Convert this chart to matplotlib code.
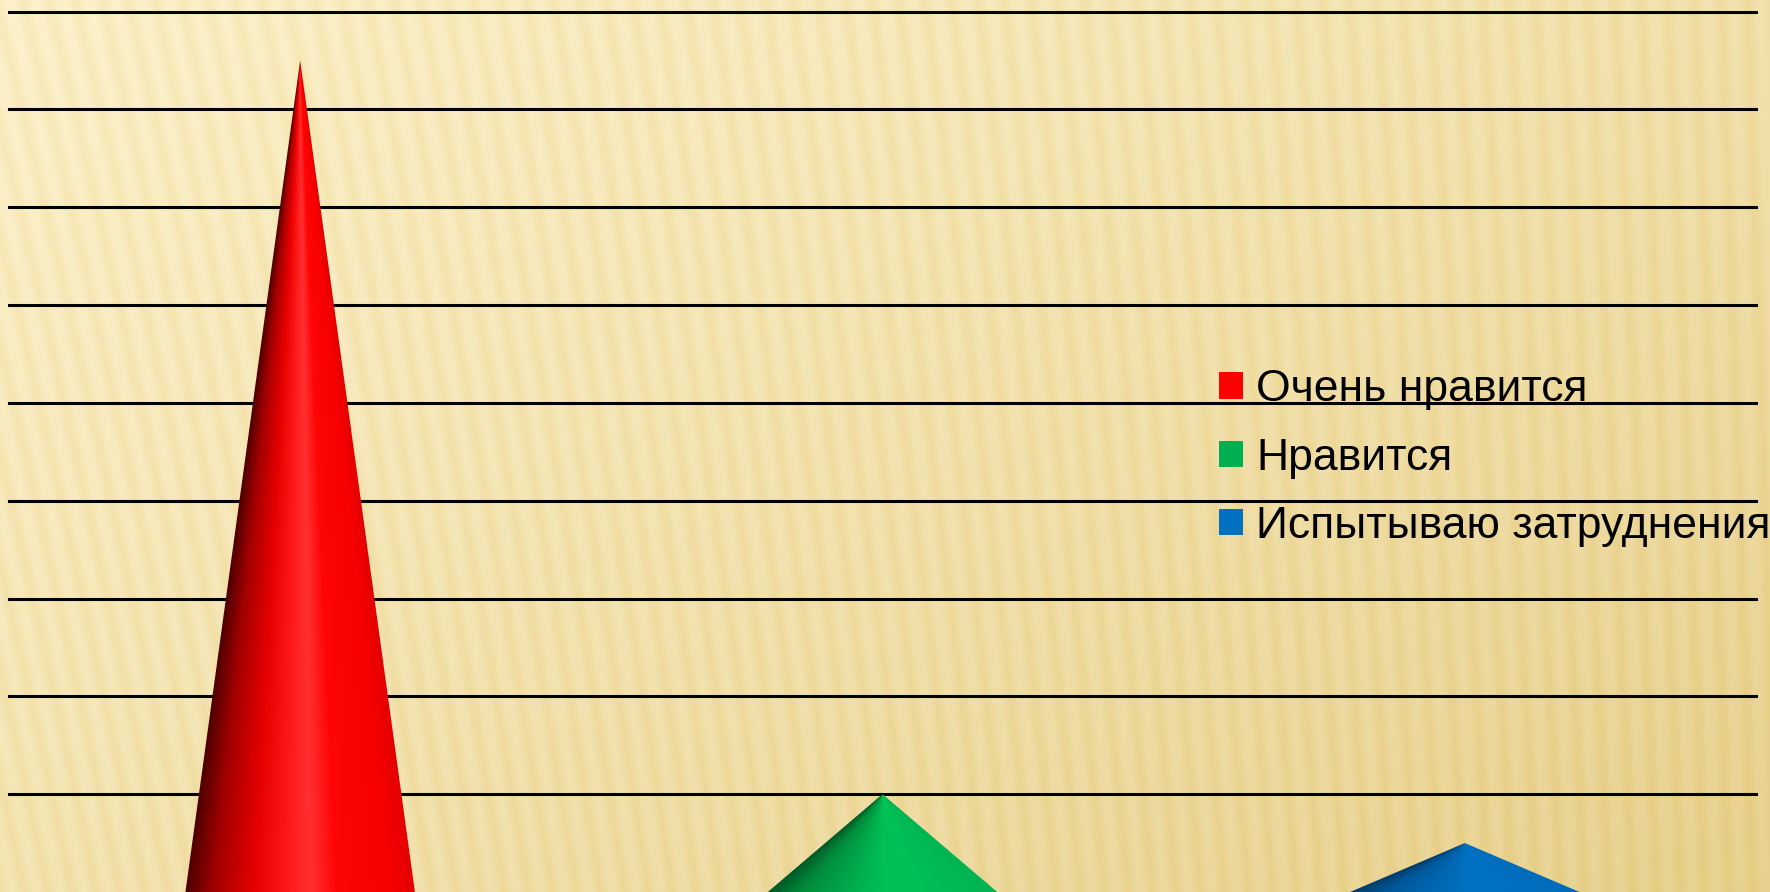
import numpy as np
import matplotlib.pyplot as plt
from matplotlib.patches import Polygon, Patch
from matplotlib.colors import LinearSegmentedColormap

categories = ['Очень нравится', 'Нравится', 'Испытываю затруднения']
values = [17, 2, 1]
colors = ['#ff0000', '#00b050', '#0070c0']
grid_ticks = [2, 4, 6, 8, 10, 12, 14, 16, 18]

shades = [
    [(0, '#4d0000'), (0.12, '#a00000'), (0.3, '#e60000'), (0.45, '#ff1a1a'),
     (0.55, '#ff3030'), (0.66, '#ff0505'), (0.9, '#f70000'), (1, '#e30000')],
    [(0, '#005a27'), (0.15, '#008c3d'), (0.35, '#00ab4b'), (0.5, '#00bf55'),
     (0.62, '#00c257'), (1, '#00b451')],
    [(0, '#003a66'), (0.15, '#005798'), (0.35, '#0067b2'), (0.55, '#0072c4'),
     (1, '#006bba')],
]

plt.rcParams['font.family'] = ['Liberation Sans', 'DejaVu Sans']

W, H = 1770, 892
fig = plt.figure(figsize=(W / 100, H / 100), dpi=100)

# striped golden background
bg = fig.add_axes([0, 0, 1, 1], zorder=0)
bg.set_axis_off()
yy, xx = np.mgrid[0:H, 0:W].astype(float)
t = np.clip(0.55 * xx / W + 0.45 * yy / H, 0, 1) ** 1.2
light = np.array([252, 241, 203]) / 255
dark = np.array([232, 210, 145]) / 255
base = light[None, None, :] * (1 - t[..., None]) + dark[None, None, :] * t[..., None]
slope = 0.22 - 0.19 * xx / W
phase = (xx + slope * (H - yy)) / 24.0
s = (0.5 + 0.5 * np.cos(2 * np.pi * phase)) ** 1.5
stripe = np.array([8, 18, 42]) / 255
img = base - 0.4 * s[..., None] * stripe[None, None, :]
bg.imshow(np.clip(img, 0, 1), aspect='auto', extent=(0, 1, 0, 1), interpolation='bilinear')

ax = fig.add_axes([9 / W, 0, 1747 / W, (H - 11.5) / H], zorder=1)
ax.patch.set_alpha(0)
for sp in ax.spines.values():
    sp.set_visible(False)
ax.set_xticks([])
ax.set_yticks([])

for g in grid_ticks:
    ax.axhline(g, color='black', lw=2.2, zorder=1, clip_on=False)

hw = 0.197
for i, (v, st) in enumerate(zip(values, shades)):
    cmap = LinearSegmentedColormap.from_list('c%d' % i, st)
    ys = np.linspace(0, v, 300)
    xs = np.linspace(i - hw, i + hw, 300)
    X, Y = np.meshgrid(xs, ys)
    local = hw * np.maximum(1 - Y / v, 1e-6)
    u = np.clip(0.5 + (X - i) / (2 * local), 0, 1)
    poly = Polygon([(i - hw, 0), (i, v), (i + hw, 0)], closed=True,
                   facecolor='none', edgecolor='none', transform=ax.transData)
    ax.add_patch(poly)
    im = ax.imshow(cmap(u), extent=(i - hw, i + hw, 0, v), origin='lower',
                   aspect='auto', zorder=3, interpolation='bilinear')
    im.set_clip_path(poly)

ax.set_xlim(-0.5, 2.5)
ax.set_ylim(0, 18)

handles = [Patch(facecolor=c, edgecolor='none') for c in colors]
fig.legend(handles, categories, loc='center left',
           bbox_to_anchor=(1219 / W, 1 - 458 / H), frameon=False,
           fontsize=32, handlelength=0.54, handleheight=0.54,
           handletextpad=0.3, labelspacing=0.61, borderpad=0,
           borderaxespad=0)

fig.savefig('out.png', dpi=100)
